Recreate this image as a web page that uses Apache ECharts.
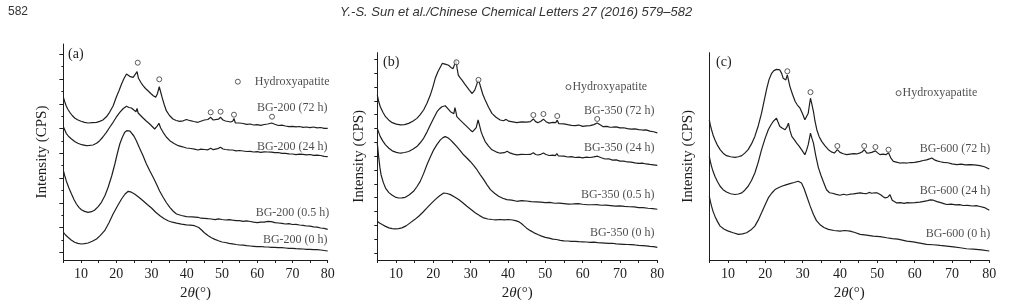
<!DOCTYPE html>
<html><head><meta charset="utf-8">
<script src="https://cdn.jsdelivr.net/npm/echarts@6/dist/echarts.min.js"></script>
<style>html,body{margin:0;padding:0;background:#fff}#c{width:1019px;height:306px}</style>
</head><body><div id="c"></div>
<script>
// ---------- DATA (2θ in degrees, intensity in arbitrary units, curves offset as in the figure) ----------
const xTicks = [10, 20, 30, 40, 50, 60, 70, 80];
const panelTags = ['(a)', '(b)', '(c)'];
const curveNamesA = ['BG-200 (72 h)', 'BG-200 (24 h)', 'BG-200 (0.5 h)', 'BG-200 (0 h)'];
const curveNamesB = ['BG-350 (72 h)', 'BG-350 (24 h)', 'BG-350 (0.5 h)', 'BG-350 (0 h)'];
const curveNamesC = ['BG-600 (72 h)', 'BG-600 (24 h)', 'BG-600 (0 h)'];
const legendText = 'Hydroxyapatite';

const a72 = [[5,162.7],[5.4,158],[5.8,154],[6.3,150.5],[6.8,147.7],[7.5,144.5],[8.2,142],[9,140.2],[10,138.7],[11,137.6],[12,137],[13.2,137.4],[14.4,137.7],[15.3,138.6],[16.2,140],[17.2,143.2],[18.1,147.7],[19.1,154],[20,162.7],[20.8,169.5],[21.5,176],[22.2,181.5],[22.9,186],[23.4,184.5],[23.8,183.7],[24.3,182.2],[24.8,182.7],[25.3,182],[25.9,188.3],[26.3,181.7],[27,177.5],[27.6,174.3],[28.3,171.5],[29,169.3],[29.8,166.5],[30.5,164.3],[31.2,162.7],[31.7,166.5],[32.2,173.3],[32.6,168],[33,162.7],[33.6,155.5],[34.2,149.3],[35.1,144.5],[36.1,141],[37,139.5],[38,138.7],[39,139.2],[39.9,140.5],[41,139.3],[42,138.5],[43.2,137.7],[44.2,139],[45,140],[46,140.5],[46.8,142.7],[47.5,140],[48,139.5],[49,140.8],[49.6,142.7],[50.3,140],[51,139],[52.5,138],[53.1,139],[53.4,141.5],[53.8,137],[54.2,136.5],[55,137],[56,136.5],[57,135.6],[58,136],[59,135],[60,135.3],[61,134.6],[62,135.5],[63,136],[64.1,137],[65,135.8],[66,134.5],[67,134.8],[68,134],[69,133.4],[70,133.7],[71,133.2],[72,133.5],[73,132.7],[74,133],[75,132.4],[76,133],[77,132.2],[78,132.5],[79,131.6],[80,131.7]];
const a24 = [[5,133.3],[5.4,130],[5.8,126.7],[6.5,123.5],[7.3,121],[8.2,118.5],[9.1,116.7],[10.2,115.3],[11.5,114.3],[12.4,114.6],[13.4,115],[14.4,116.7],[15.3,119.3],[16.2,123],[17.2,127.7],[18.1,132.5],[19.1,137.7],[20,142.8],[21,147.7],[22,151.5],[22.9,153.7],[23.6,152.5],[24.3,152],[25,150],[25.6,148.3],[25.9,151.5],[26.2,147],[26.9,144.5],[27.6,142],[28.5,139],[29.5,136],[30.2,133.5],[30.9,131],[31.6,133.8],[32.1,136.7],[32.6,132],[33.3,127.7],[34.2,123],[35.2,119.3],[36.4,116.5],[37.6,114.3],[38.8,113.2],[39.9,112],[41.2,111.5],[42.2,110.8],[43.2,110],[44,110.8],[45,110.5],[46,110.2],[46.8,111.7],[47.5,110.3],[48,110.5],[48.8,111.4],[49.6,112.7],[50.3,111],[51,110.5],[52,110.2],[53,110],[54,109.2],[55,109.5],[56,109],[57,108.5],[58,108.7],[59,108],[60,108.3],[61,107.6],[62,108.2],[63,108],[64,107.8],[65,107.3],[66,107.5],[67,106.6],[68,106.7],[69,106.1],[70,106],[71,105.4],[72,105.9],[73,105.7],[74,105.1],[75,105.5],[76,104.6],[77,104.9],[78,104.5],[79,103.6],[80,103.3]];
const a05 = [[5,89.3],[5.4,84],[5.8,79.3],[6.5,72.5],[7.3,66],[8,60.5],[8.7,56],[9.4,52.6],[10.1,50.3],[11,48.6],[12,47.7],[13,48.3],[13.9,50],[14.8,53.2],[15.8,57.7],[16.8,64.5],[17.7,72.7],[18.7,84],[19.6,96],[20.3,106.5],[21,116],[21.7,122.5],[22.4,127.7],[23,129.3],[23.4,130],[23.9,128.8],[24.3,127.7],[25,124],[25.7,119.3],[26.6,112],[27.6,104.3],[28.5,96.5],[29.5,89.3],[30.5,82.5],[31.4,76],[32.3,69],[33.3,62.7],[34.2,57.5],[35.2,52.7],[36.1,49],[37.1,46],[38.5,44.5],[39.9,43.3],[41.5,43.2],[43.2,42.7],[44,41.8],[45,41.7],[46,41.3],[47,41],[48,40.3],[49,41.2],[50,40.5],[51,40],[52,40.4],[53,39.8],[54,39.4],[55,39.3],[56,38.7],[57,39.1],[58,38.5],[59,37.8],[60,37.3],[61,37.9],[62,37.8],[63,38.6],[64,38.3],[65,37.4],[66,37],[67,36.6],[68,36],[69,36.3],[70,35.5],[71,35.6],[72,35],[73,34.7],[74,34],[75,33.8],[76,33.2],[77,32.9],[78,32],[79,31.6],[80,30.7]];
const a0 = [[5,27.7],[5.6,25],[6.3,22.7],[7.2,20],[8.2,17.7],[9.1,16.6],[10.1,16],[11,16.3],[12,17],[13.2,18.7],[14.4,21],[15.5,24.6],[16.7,29.3],[17.9,37],[19.1,46],[20.3,53.8],[21.5,61],[22.5,66],[23.4,68.7],[24.3,67.8],[25.2,66],[26.4,62.8],[27.6,59.3],[28.8,55.5],[30,52],[31.2,47.8],[32.4,44.3],[33.5,41.5],[34.7,39.3],[35.9,37.8],[37.1,36.8],[38.5,35.8],[39.9,35.2],[41,34.8],[42.2,34.3],[43.4,32.5],[44.2,30],[45,27.2],[46,24.6],[47,22.3],[48,20.6],[49,19.2],[50,18],[51,17.5],[52,16.6],[53,16.2],[54,15.5],[55,15],[56,14.8],[57,14.3],[58,14],[59,13.7],[60,13.3],[61,13.5],[62,13.1],[63,13],[64,12.6],[65,12.7],[66,12.4],[67,12.3],[68,12],[69,11.6],[70,11.7],[71,11.3],[72,11.2],[73,11],[74,10.6],[75,10.7],[76,10.3],[77,10.4],[78,10],[79,9.5],[80,9]];

const b72 = [[5,165.7],[5.4,159],[5.8,154],[6.5,148.5],[7.2,144],[8.1,140.5],[9,138],[10.1,136.5],[11.2,135.7],[12.3,136.1],[13.4,137.3],[14.5,139.4],[15.6,142.3],[16.5,146],[17.4,150.7],[18.3,157.5],[19.2,165.7],[19.9,174],[20.5,182.3],[21.2,189],[21.9,194],[22.4,197.5],[22.8,199],[23.4,196.5],[24.1,195.7],[24.7,193.5],[25.3,192.3],[25.8,194],[26.1,200.7],[26.4,192],[26.7,185.7],[27.2,183],[27.7,180.7],[28.4,177],[29,174],[29.7,170.5],[30.4,167.3],[31.1,170.7],[31.6,176],[32,180.7],[32.4,177.5],[32.8,172.3],[33.3,166],[33.9,160.7],[34.8,153.5],[35.7,147.3],[36.8,143.5],[37.9,140.7],[38.8,139.9],[39.5,141.3],[40.2,139.5],[41.3,138.8],[42.4,138],[43.6,138.8],[45,138.5],[46,139],[46.8,141.7],[47.4,139],[48,138],[48.8,139.5],[49.5,141.5],[50.2,139],[51,137.5],[52,138.2],[52.8,138],[53.2,140.5],[53.6,137],[54,136],[55,136.8],[56,136],[57,135.3],[58,135],[59,135.6],[60,134.3],[61,134.8],[62,135],[63,136],[63.9,137.7],[64.7,135.8],[65.5,134],[66.5,134.3],[67.3,133.4],[68,133.5],[69,133.8],[70,132.7],[71,132.9],[72,132],[73,131.5],[74,131.8],[75,131],[76,130.6],[77,130.7],[78,129.5],[79,128.9],[80,127.7]];
const b24 = [[5,132.3],[5.4,128],[5.8,124],[6.5,119.5],[7.2,115.7],[8.1,112.3],[9,109.7],[10.1,108.2],[11.2,107.3],[12.3,108],[13.4,109],[14.5,111.2],[15.6,114],[16.5,117.8],[17.4,122.3],[18.3,128.5],[19.2,135.7],[20.1,142.5],[21,149],[21.7,152],[22.3,154],[22.8,154.8],[23.2,155],[23.9,152],[24.6,149],[25.1,147.8],[25.5,147],[25.8,153],[26.1,148],[26.3,144],[27.2,140.5],[28.1,137.3],[29,134],[29.9,130.7],[30.5,128.8],[31,127.3],[31.5,133],[32,140.7],[32.4,135],[32.8,129],[33.3,124],[33.9,119],[34.8,114.5],[35.7,110.7],[36.8,108.7],[37.9,107.3],[39,107.8],[39.8,109.2],[40.5,107.6],[41.5,106.4],[42.4,105.7],[43.6,106.2],[45,106],[46,106.1],[46.8,107.7],[47.4,106],[48,105.5],[48.8,106.2],[49.5,107.5],[50.2,106],[51,105],[52,105.4],[52.7,104.8],[53.1,107],[53.5,104.5],[54,104],[55,104.4],[56,103.5],[57,103.8],[58,103],[59,103.3],[60,102.7],[61,103.3],[62,103],[63,103.6],[64,104.3],[65,102.8],[66,101.5],[67,101.7],[68,100.3],[69,100.6],[70,99.3],[71,99.4],[72,98.5],[73,98.4],[74,97.6],[75,97],[76,97.3],[77,96.5],[78,96],[79,95.6],[80,95]];
const b05 = [[5,117.3],[5.2,110],[5.4,102.3],[5.7,93],[6,85.7],[6.6,78],[7.2,72.3],[8.1,67.7],[9,65],[9.8,63.2],[10.7,62.3],[11.6,62.4],[12.5,63],[13.6,65.5],[14.7,69],[15.6,73.6],[16.5,79],[17.4,86.8],[18.3,95.7],[19.2,103.5],[20.1,110.7],[21,116.2],[21.9,120.7],[22.6,123],[23.2,124],[23.9,122.8],[24.6,120.7],[25.4,117.6],[26.3,114],[27.2,110],[28.1,105.7],[29,102.5],[29.9,99],[30.8,95],[31.7,90.7],[32.6,85.6],[33.5,80.7],[34.4,75.5],[35.3,70.7],[36.4,67],[37.5,64],[38.6,62],[39.7,60.7],[41,60.2],[42.4,59],[43.6,59.6],[45,59.3],[46.2,58.6],[47.5,58.5],[48.8,58.1],[50,57.7],[51.2,57.9],[52.5,57],[53.8,57.2],[55,56.7],[56.2,56.2],[57.5,56.3],[58.8,56.6],[60,56],[61.2,55.5],[62.5,55.5],[63.8,55.7],[65,55],[66.2,55.2],[67.5,54.7],[68.8,54.2],[70,54.3],[71.2,53.8],[72.5,53.5],[73.8,53.4],[75,52.7],[76.2,52.6],[77.5,52],[78.8,51.7],[80,51]];
const b0 = [[5,39],[5.6,37.2],[6.3,35.7],[7.2,33.8],[8.1,32.3],[9,31.5],[9.8,31.3],[10.7,31.6],[11.6,32.3],[12.7,34.3],[13.8,37.3],[15,40.6],[16.1,44],[17.2,48],[18.3,52.3],[19.4,56.6],[20.5,60.7],[21.7,64.5],[22.8,67.3],[23.7,66.8],[24.6,65.7],[25.7,63.4],[26.8,60.7],[27.9,57.5],[29,54],[30.2,50.5],[31.3,47.3],[32.4,44.6],[33.5,42.3],[34.6,41.2],[35.7,40.7],[36.8,40.3],[37.9,40.7],[39,40.4],[40.2,40.7],[41.2,40.2],[42,39.5],[42.8,38.6],[43.6,36.6],[44.3,34.3],[45,32],[46,29.5],[47,27.3],[48,25.6],[49,24],[50,22.7],[51,22],[52,21],[53,20.6],[54,19.8],[55,19.3],[56,19.1],[57,18.7],[58,18.8],[59,18.4],[60,18.3],[61,18.1],[62,17.8],[63,17.9],[64,17.4],[65,17.3],[66,17],[67,16.7],[68,16.8],[69,16.2],[70,16],[71,15.8],[72,15.6],[73,15.4],[74,15.1],[75,14.7],[76,14.5],[77,14.2],[78,13.7],[79,13.4],[80,12.7]];

const c72 = [[5,140.7],[5.3,135],[5.6,130.7],[6,125.5],[6.5,120.7],[7.2,115],[7.9,110.7],[8.7,107.2],[9.6,104.7],[10.7,103.6],[11.9,103],[12.8,103.6],[13.7,104.7],[14.5,107.2],[15.4,110.7],[16.3,116.5],[17.2,124],[18.1,134.5],[19,147.3],[19.7,160],[20.4,172.3],[21,181],[21.7,187.3],[22.3,190],[23,191.3],[23.5,190.2],[23.9,190.7],[24.4,187],[24.8,182.3],[25.2,181.5],[25.5,180.7],[25.9,185.7],[26.2,184],[26.6,174],[27.3,166],[28,159],[28.6,155.5],[29.3,152.3],[30,146.5],[30.6,140.7],[31,142.5],[31.5,147.3],[31.8,155],[32.1,162.3],[32.5,156],[32.9,149],[33.3,139.5],[33.8,130.7],[34.4,124],[35.1,119],[36,114.5],[36.9,110.7],[37.7,108.5],[38.5,107.3],[39.3,110.7],[40,108],[40.9,106.6],[41.8,105.7],[42.7,106.2],[43.6,106.7],[44.5,106.4],[45.4,107.5],[46,108.6],[46.5,110.7],[47.2,107.3],[47.9,107.5],[48.5,108],[49.5,109.5],[50.1,107.5],[50.7,105.7],[51.5,106.2],[52.3,105.7],[53,107.5],[53.6,102.5],[54.3,99],[55.1,98.2],[56,97.3],[57,97.6],[57.9,97.3],[59,97.8],[60,98],[61.4,99],[62.3,99.8],[63.2,100.5],[64,101.5],[64.6,102.3],[65.3,100.5],[66,99.5],[66.9,98.6],[67.7,98],[68.9,97.6],[70,96.5],[71.3,95.7],[72.5,96.2],[73.6,95.4],[74.8,95.7],[76,95.4],[77.5,94.7],[78.7,93.6],[80,91.3]];
const c24 = [[5,104],[5.3,98.5],[5.6,94],[6,89],[6.5,84],[7.2,78.5],[7.9,74],[8.7,70.6],[9.6,68.3],[10.7,66.5],[11.9,65.7],[12.8,66.2],[13.7,67.3],[14.5,70],[15.4,74],[16.3,79.8],[17.2,87.3],[18.1,98],[19,110.7],[19.9,121.5],[20.8,130.7],[21.5,135.5],[22.1,139],[22.6,141],[23,142.3],[23.4,138.5],[23.9,134],[24.6,132.2],[25.3,130.7],[25.8,133.5],[26.2,137.3],[26.6,130],[27.1,124],[27.8,120.5],[28.4,117.3],[29.1,114],[29.7,110.7],[30.2,108],[30.6,105.7],[31,109.5],[31.5,115.7],[31.8,121.5],[32.1,127.3],[32.5,122],[32.9,117.3],[33.5,105],[34.2,93],[34.9,85],[35.5,79],[36.4,70.5],[37.2,67.5],[38,67],[39,65.8],[40,65],[41,66],[41.8,65.2],[42.7,66],[43.6,66.3],[44.5,66.8],[45.4,67.3],[46.2,66.8],[47.1,66.5],[47.8,67.8],[48.5,67],[49.3,67.5],[50,67.3],[50.9,65.5],[51.5,63.8],[52.1,62.3],[52.8,63],[53.4,65.5],[54,60],[55.2,57.3],[56.2,57.6],[57.2,56.8],[58,57.5],[58.8,57.3],[60,57.6],[61.4,58],[62.5,58.9],[63.5,59.6],[64.2,60.3],[65,60],[66,58.6],[67,57.5],[67.8,56.6],[68.6,55.7],[69.8,56],[71,55.3],[72,55.5],[73,54.7],[74.2,54.9],[75.5,54.2],[76.5,54.6],[77.5,53.7],[78.7,52.6],[80,50]];
const c0 = [[5,64],[5.3,58.5],[5.6,54],[6,48.8],[6.5,44],[7.2,38.5],[7.9,34],[9,30.8],[10.1,29],[11.4,27.3],[12.8,25.7],[13.9,26.2],[15,27.3],[16.1,30],[17.2,34],[18.1,40],[19,47.3],[19.9,55],[20.8,62.3],[21.7,67],[22.6,70.7],[23.5,72.5],[24.4,74],[25.5,75.4],[26.6,76.7],[27.7,77.8],[28.8,79],[29.3,78.6],[29.7,77.3],[30.4,71.5],[31.1,64],[32,54.3],[32.9,45.7],[33.7,39.5],[34.6,35.7],[35.7,32.6],[36.9,30.7],[38.4,29.6],[40,29],[41.3,29.6],[42.7,29],[44,27.6],[45.4,25.7],[47.1,25],[48.9,24],[50.7,23.4],[52.5,22.3],[54,21.5],[55.5,20.9],[57.9,19],[59.6,18.2],[61.4,17],[63.2,15.7],[65,15.3],[66.8,14.6],[68.6,14],[70.4,13.2],[72.2,12.3],[73.9,11.3],[75.7,11],[77.9,10.1],[80,9]];

// Hydroxyapatite reflections marked with circles (2θ, height of marker)
const haA = [[26.1,197.3],[32.2,180.7],[46.8,147.7],[49.6,148.3],[53.4,145.3],[64.2,143.3]];
const haB = [[26.2,198.7],[32.1,181],[46.8,145.7],[49.5,146.7],[53.2,144.7],[63.9,141.7]];
const haC = [[25.9,189.4],[32.1,168.4],[39.3,114.4],[46.5,114.4],[49.5,113.4],[53.0,110.7]];
// legend symbol anchor (data coordinates)
const legendAnchor = [[54.5,178.3],[56.2,173.7],[55.7,167.4]];
// curve-name label anchors (right end of each label, data coordinates)
const labelAnchorA = [[80.1,152.3],[80.1,113.3],[80.6,46.7],[80.1,20]];
const labelAnchorB = [[79.4,150],[79.4,112.7],[79.4,65],[79.4,27.7]];
const labelAnchorC = [[80.4,111.4],[80.4,69],[80.4,26.7]];

// ---------- CHART ----------
const SERIF = 'Liberation Serif';
const INK = '#1e1e1e';
const grids = [
  {left:63.4, top:44, width:264.3, height:216, ymax:216},
  {left:377.3, top:52.7, width:280, height:208.3, ymax:208.3},
  {left:709.3, top:52.7, width:280, height:208, ymax:208}
];
const yMajor = [
  [0,1,2,3,4,5,6,7,8].map(k => 7.7 + k*24.75),
  [0,1,2,3,4,5,6,7,8,9,10,11,12,13,14].map(k => 7 + k*13.91),
  []
];
const yMinor = [[0,1,2,3,4,5,6,7,8].map(k => 20.1 + k*24.75), [], []];
const yNameGap = [14, 11, 14];
const legendDist = [14, 1, 1];

const curves = [[a72,a24,a05,a0],[b72,b24,b05,b0],[c72,c24,c0]];
const names = [curveNamesA, curveNamesB, curveNamesC];
const has = [haA, haB, haC];
const anchors = [labelAnchorA, labelAnchorB, labelAnchorC];

const option = {
  animation:false,
  backgroundColor:'#fff',
  grid: grids.map(g => ({left:g.left, top:g.top, width:g.width, height:g.height, containLabel:false})),
  xAxis: grids.map((g,i) => ({
    type:'value', gridIndex:i, min:5, max:80, interval:5,
    axisLine:{show:true, onZero:false, lineStyle:{color:INK, width:1}},
    axisTick:{show:true, length:3, lineStyle:{color:INK, width:1}},
    axisLabel:{show:true, margin:7, fontFamily:SERIF, fontSize:14, color:INK,
      formatter: v => (xTicks.indexOf(v) >= 0 ? String(v) : '')},
    splitLine:{show:false},
    name:'2{i|θ}(°)', nameLocation:'middle', nameGap:26,
    nameTextStyle:{fontFamily:SERIF, fontSize:15, color:INK,
      rich:{i:{fontFamily:SERIF, fontSize:15, fontStyle:'italic', color:INK}}}
  })),
  yAxis: [].concat(
    grids.map((g,i) => ({
      type:'value', gridIndex:i, min:0, max:g.ymax,
      axisLine:{show:true, onZero:false, lineStyle:{color:INK, width:1}},
      axisTick:{show: yMajor[i].length>0, length: i===0 ? 4 : 3, customValues: yMajor[i], lineStyle:{color:INK, width:1}},
      axisLabel:{show:false},
      splitLine:{show:false},
      name:'Intensity (CPS)', nameLocation:'middle', nameRotate:90, nameGap:yNameGap[i],
      nameTextStyle:{fontFamily:SERIF, fontSize:15, color:INK}
    })),
    [{
      type:'value', gridIndex:0, min:0, max:grids[0].ymax, position:'left',
      axisLine:{show:false}, axisTick:{show:true, length:2, customValues:yMinor[0], lineStyle:{color:INK, width:1}},
      axisLabel:{show:false}, splitLine:{show:false}
    }]
  ),
  graphic: [
    {type:'text', left:8, top:6, style:{text:'582', fontFamily:'Liberation Sans Narrow, Liberation Sans', fontSize:12, fill:'#333'}},
    {type:'text', left:340, top:6, style:{text:'Y.-S. Sun et al./Chinese Chemical Letters 27 (2016) 579–582', fontFamily:'Liberation Sans Narrow, Liberation Sans', fontStyle:'italic', fontSize:13, fill:'#333'}},
    {type:'text', left:68, top:47, style:{text:panelTags[0], fontFamily:SERIF, fontSize:14, fill:INK}},
    {type:'text', left:383, top:55, style:{text:panelTags[1], fontFamily:SERIF, fontSize:14, fill:INK}},
    {type:'text', left:716, top:55, style:{text:panelTags[2], fontFamily:SERIF, fontSize:14, fill:INK}}
  ],
  series: []
};

curves.forEach((set, p) => {
  set.forEach((d, k) => {
    option.series.push({
      type:'line', xAxisIndex:p, yAxisIndex:p, data:d, showSymbol:false, symbol:'none',
      lineStyle:{color:'#1f1f1f', width:1.2}, silent:true, z:2
    });
  });
  option.series.push({
    type:'scatter', xAxisIndex:p, yAxisIndex:p, data:has[p], symbol:'circle', symbolSize:5,
    itemStyle:{color:'#fff', borderColor:'#333', borderWidth:1}, silent:true, z:3
  });
  option.series.push({
    type:'scatter', xAxisIndex:p, yAxisIndex:p, clip:false,
    data:[{value:legendAnchor[p], name:legendText}], symbol:'circle', symbolSize:5,
    itemStyle:{color:'#fff', borderColor:'#333', borderWidth:1},
    label:{show:true, position:'right', distance:legendDist[p], formatter:'{b}', fontFamily:SERIF, fontSize:12, color:INK},
    silent:true, z:3
  });
  option.series.push({
    type:'scatter', xAxisIndex:p, yAxisIndex:p, clip:false,
    data: anchors[p].map((a, k) => ({value:a, name:names[p][k]})),
    symbol:'circle', symbolSize:1, itemStyle:{color:'transparent'},
    label:{show:true, position:'left', distance:0, formatter:'{b}', fontFamily:SERIF, fontSize:12, color:INK},
    silent:true, z:3
  });
});

const chart = echarts.init(document.getElementById('c'), null, {renderer:'canvas'});
chart.setOption(option);
</script>
</body></html>
